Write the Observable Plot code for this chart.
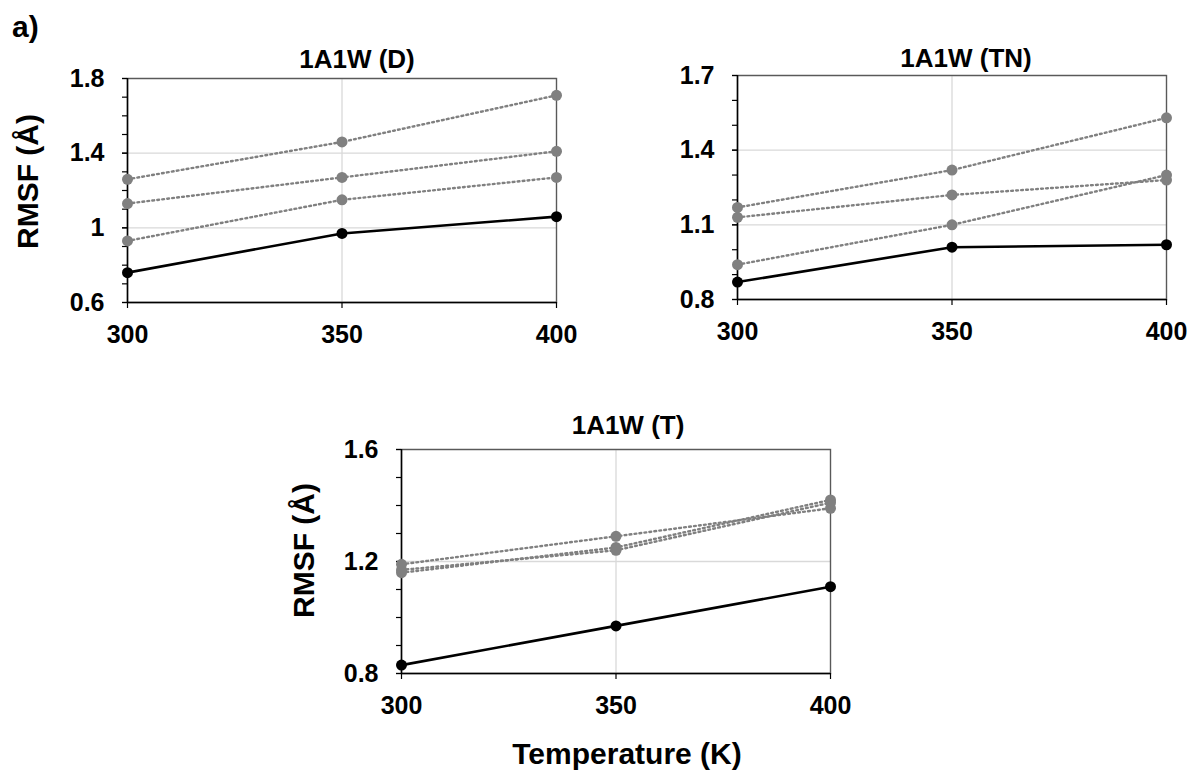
<!DOCTYPE html>
<html>
<head>
<meta charset="utf-8">
<script src="https://cdn.jsdelivr.net/npm/d3@7"></script>
<script src="https://cdn.jsdelivr.net/npm/@observablehq/plot@0.6"></script>
<style>
  body { margin: 0; background: #fff; }
  #root { position: relative; width: 1192px; height: 772px; overflow: hidden; font-family: "Liberation Sans", Arial, sans-serif; }
  #root svg { position: absolute; }
  .lab { position: absolute; font-weight: bold; color: #000; line-height: 1; }
</style>
</head>
<body>
<div id="root">
  <div class="lab" style="left:12px; top:12px; font-size:30px;">a)</div>
</div>
<script>
// ---- data ----
const temps = [300, 350, 400];

const dBlack = [0.76, 0.97, 1.06];
const dGray1 = [0.93, 1.15, 1.27];
const dGray2 = [1.13, 1.27, 1.41];
const dGray3 = [1.26, 1.46, 1.71];
const dMajor = [0.6, 1, 1.4, 1.8];
const dMinor = [0.6, 0.7, 0.8, 0.9, 1.0, 1.1, 1.2, 1.3, 1.4, 1.5, 1.6, 1.7, 1.8];

const tnBlack = [0.87, 1.01, 1.02];
const tnGray1 = [0.94, 1.10, 1.30];
const tnGray2 = [1.13, 1.22, 1.28];
const tnGray3 = [1.17, 1.32, 1.53];
const tnMajor = [0.8, 1.1, 1.4, 1.7];
const tnMinor = [0.8, 0.9, 1.0, 1.1, 1.2, 1.3, 1.4, 1.5, 1.6, 1.7];

const tBlack = [0.83, 0.97, 1.11];
const tGray1 = [1.19, 1.29, 1.39];
const tGray2 = [1.16, 1.25, 1.42];
const tGray3 = [1.17, 1.24, 1.41];
const tMajor = [0.8, 1.2, 1.6];
const tMinor = [0.8, 0.9, 1.0, 1.1, 1.2, 1.3, 1.4, 1.5, 1.6];

const titles = ["1A1W (D)", "1A1W (TN)", "1A1W (T)"];
const yTitle = "RMSF (Å)";
const xTitle = "Temperature (K)";

// ---- helpers ----
function rows(seriesList) {
  const out = [];
  seriesList.forEach((vals, k) => temps.forEach((t, i) => out.push({t, v: vals[i], s: k})));
  return out;
}

const FONT = "Liberation Sans, Arial, sans-serif";

function panel(cfg) {
  const gray = rows(cfg.gray);
  const black = rows([cfg.black]);
  const marks = [
    Plot.gridY(cfg.major, {stroke: "#d9d9d9", strokeOpacity: 1, strokeWidth: 1.3}),
    Plot.gridX([350], {stroke: "#d9d9d9", strokeOpacity: 1, strokeWidth: 1.3}),
    Plot.frame({stroke: "#595959", strokeWidth: 1.4}),
    Plot.ruleX([temps[0]], {stroke: "#000", strokeWidth: 1.5}),
    Plot.ruleY([cfg.domain[0]], {stroke: "#000", strokeWidth: 1.5}),
    Plot.axisY(cfg.minor, {tickSize: 5, tickFormat: () => "", label: null, strokeWidth: 1.2}),
    Plot.axisY(cfg.major, {tickSize: 5, tickPadding: 18, label: null, tickFormat: d => String(d), fontSize: 25, fontWeight: "bold", fontFamily: FONT, strokeWidth: 1.2}),
    Plot.axisX(temps, {tickSize: 6, tickPadding: 17, label: null, tickFormat: d => String(d), fontSize: 25, fontWeight: "bold", fontFamily: FONT, strokeWidth: 1.2}),
    Plot.line(gray, {x: "t", y: "v", z: "s", stroke: "#808080", strokeWidth: 2.4, strokeDasharray: "1.8,3.2"}),
    Plot.dot(gray, {x: "t", y: "v", r: 5.5, fill: "#808080"}),
    Plot.line(black, {x: "t", y: "v", stroke: "#000", strokeWidth: 2.6}),
    Plot.dot(black, {x: "t", y: "v", r: 5.5, fill: "#000"}),
    Plot.text([cfg.title], {text: d => d, frameAnchor: "top", textAnchor: "middle", dy: cfg.titleDy, dx: cfg.titleDx, fontSize: 26, fontWeight: "bold", fontFamily: FONT, lineAnchor: "middle"})
  ];
  if (cfg.yLabel) {
    marks.push(Plot.text([yTitle], {text: d => d, frameAnchor: "left", textAnchor: "middle", rotate: -90, dx: cfg.yLabel.dx, dy: cfg.yLabel.dy, fontSize: 30, fontWeight: "bold", fontFamily: FONT, lineAnchor: "middle"}));
  }
  if (cfg.xLabel) {
    marks.push(Plot.text([xTitle], {text: d => d, frameAnchor: "bottom", textAnchor: "middle", dy: cfg.xLabel.dy, dx: cfg.xLabel.dx, fontSize: 30, fontWeight: "bold", fontFamily: FONT, lineAnchor: "middle"}));
  }
  const svg = Plot.plot({
    width: cfg.width, height: cfg.height,
    marginLeft: cfg.m[3], marginTop: cfg.m[0], marginRight: cfg.m[1], marginBottom: cfg.m[2],
    x: {domain: [300, 400], label: null},
    y: {domain: cfg.domain, label: null},
    style: {fontFamily: FONT, fontSize: "25px", fontWeight: "bold", color: "#000", background: "transparent", overflow: "visible"},
    marks
  });
  svg.style.left = cfg.left + "px";
  svg.style.top = cfg.top + "px";
  document.getElementById("root").appendChild(svg);
}

panel({
  left: 0, top: 0, width: 600, height: 380, m: [78, 44, 78, 127],
  domain: [0.6, 1.8], major: dMajor, minor: dMinor,
  black: dBlack, gray: [dGray1, dGray2, dGray3],
  title: titles[0], titleDy: -19, titleDx: 15,
  yLabel: {dx: -99, dy: -9}
});
panel({
  left: 600, top: 0, width: 592, height: 380, m: [75, 26, 81, 137],
  domain: [0.8, 1.7], major: tnMajor, minor: tnMinor,
  black: tnBlack, gray: [tnGray1, tnGray2, tnGray3],
  title: titles[1], titleDy: -17, titleDx: 14
});
panel({
  left: 280, top: 380, width: 600, height: 392, m: [69, 50, 99, 121],
  domain: [0.8, 1.6], major: tMajor, minor: tMinor,
  black: tBlack, gray: [tGray1, tGray2, tGray3],
  title: titles[2], titleDy: -24, titleDx: 12,
  yLabel: {dx: -97, dy: -11},
  xLabel: {dy: 81, dx: 11}
});
</script>
</body>
</html>
